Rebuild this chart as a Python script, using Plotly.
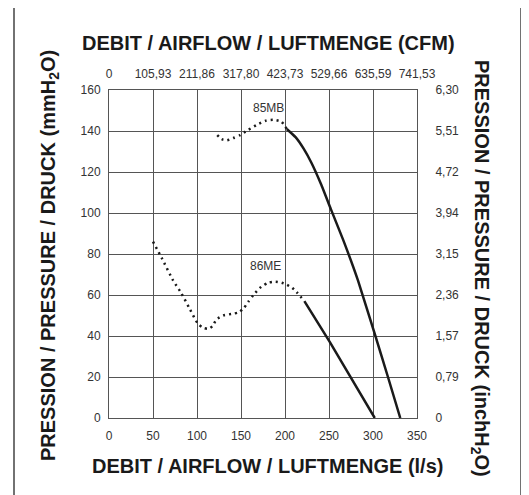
import plotly.graph_objects as go

# Bottom axis (l/s) ticks and top axis (CFM) tick labels
flow_ticks = [0, 50, 100, 150, 200, 250, 300, 350]
cfm_ticks = [0, 105.93, 211.86, 317.80, 423.73, 529.66, 635.59, 741.53]
cfm_labels = ["0", "105,93", "211,86", "317,80", "423,73", "529,66", "635,59", "741,53"]
# Left axis (mmH2O) and right axis (inchH2O)
mm_ticks = [0, 20, 40, 60, 80, 100, 120, 140, 160]
inch_ticks = [0, 0.79, 1.57, 2.36, 3.15, 3.94, 4.72, 5.51, 6.30]
inch_labels = ["0", "0,79", "1,57", "2,36", "3,15", "3,94", "4,72", "5,51", "6,30"]

# 85MB curve
flow_85mb_dot = [123, 128, 134, 141, 149, 158, 168, 178, 187, 196, 202]
pres_85mb_dot = [138, 136, 135.5, 136.5, 138, 140.5, 143, 145, 145.5, 144.5, 141]
flow_85mb = [202, 212, 221, 230, 241, 252, 266, 283, 302, 317, 331]
pres_85mb = [141, 137, 131.5, 124.5, 114, 102, 87, 67, 41, 20, 0]

# 86ME curve
flow_86me_dot = [50, 60, 73, 82, 92, 101, 107, 113, 118, 122, 130, 140, 147, 153,
                 158, 164, 173, 181, 189, 196, 202, 208, 213, 222]
pres_86me_dot = [86, 78, 67, 61, 53, 46, 44, 43.5, 45, 48, 50, 50.8, 51.5, 53.5,
                 56.5, 60, 64, 66, 66.5, 66, 65, 63.5, 61.5, 57]
flow_86me = [222, 251, 302]
pres_86me = [57, 37, 0]

FONT = "Liberation Sans, Arial, sans-serif"
GRID = "#555555"
TXT = "#333333"

# page has an 8px body margin: figure is offset by (8, 8) in the page
OFF = 8
W, H = 529 - OFF, 495 - OFF
PL, PT, PR, PB = 109, 90, 417, 418  # plot area in page pixels

fig = go.Figure()
dot = dict(color="#1a1a1a", width=2.5, dash="2px,4px", shape="spline", smoothing=0.6)
solid = dict(color="#1a1a1a", width=2.5, shape="spline", smoothing=0.4)
fig.add_trace(go.Scatter(x=flow_85mb_dot, y=pres_85mb_dot, mode="lines", line=dot, hoverinfo="skip"))
fig.add_trace(go.Scatter(x=flow_85mb, y=pres_85mb, mode="lines", line=solid, hoverinfo="skip"))
fig.add_trace(go.Scatter(x=flow_86me_dot, y=pres_86me_dot, mode="lines", line=dot, hoverinfo="skip"))
fig.add_trace(go.Scatter(x=flow_86me, y=pres_86me, mode="lines",
                         line=dict(color="#1a1a1a", width=2.5), hoverinfo="skip"))
# invisible traces to activate secondary axes
fig.add_trace(go.Scatter(x=[cfm_ticks[0]], y=[0], xaxis="x2", yaxis="y", mode="markers",
                         marker=dict(opacity=0), hoverinfo="skip"))
fig.add_trace(go.Scatter(x=[0], y=[inch_ticks[0]], xaxis="x", yaxis="y2", mode="markers",
                         marker=dict(opacity=0), hoverinfo="skip"))

tickfont = dict(family=FONT, size=12, color=TXT)
fig.update_layout(
    width=W, height=H,
    margin=dict(l=PL - OFF, r=W - (PR - OFF), t=PT - OFF, b=H - (PB - OFF), pad=0),
    paper_bgcolor="white", plot_bgcolor="white",
    showlegend=False,
    font=dict(family=FONT, color=TXT),
    xaxis=dict(range=[0, 350], tickvals=flow_ticks, showgrid=True, gridcolor=GRID, gridwidth=1,
               showline=True, linecolor=GRID, linewidth=1, mirror=True, zeroline=False,
               ticks="outside", ticklen=7, tickcolor="rgba(0,0,0,0)", tickfont=tickfont),
    xaxis2=dict(range=[0, 741.53], overlaying="x", side="top", anchor="y",
                tickvals=cfm_ticks, ticktext=cfm_labels, showgrid=False, zeroline=False,
                ticks="outside", ticklen=6, tickcolor="rgba(0,0,0,0)", tickfont=tickfont),
    yaxis=dict(range=[0, 160], tickvals=mm_ticks, showgrid=True, gridcolor=GRID, gridwidth=1,
               showline=True, linecolor=GRID, linewidth=1, mirror=True, zeroline=False,
               ticks="outside", ticklen=5, tickcolor="rgba(0,0,0,0)", tickfont=tickfont),
    yaxis2=dict(range=[0, 6.30], overlaying="y", side="right", anchor="x",
                tickvals=inch_ticks, ticktext=inch_labels, showgrid=False, zeroline=False,
                ticks="outside", ticklen=15, tickcolor="rgba(0,0,0,0)", tickfont=tickfont),
)

titlefont = dict(family=FONT, size=20, color="#1a1a1a")
def px_x(p):
    return (p - PL) / (PR - PL)
def px_y(p):
    return (PB - p) / (PB - PT)

fig.add_annotation(text="<b>DEBIT / AIRFLOW / LUFTMENGE (CFM)</b>", xref="paper", yref="paper",
                   x=px_x(268), y=px_y(43), showarrow=False, font=titlefont,
                   xanchor="center", yanchor="middle")
fig.add_annotation(text="<b>DEBIT / AIRFLOW / LUFTMENGE (l/s)</b>", xref="paper", yref="paper",
                   x=px_x(267), y=px_y(466), showarrow=False, font=titlefont,
                   xanchor="center", yanchor="middle")
fig.add_annotation(text="<b>PRESSION / PRESSURE / DRUCK (mmH<sub>2</sub>O)</b>", xref="paper", yref="paper",
                   x=px_x(49), y=px_y(256), showarrow=False, font=titlefont, textangle=-90,
                   xanchor="center", yanchor="middle")
fig.add_annotation(text="<b>PRESSION / PRESSURE / DRUCK (inchH<sub>2</sub>O)</b>", xref="paper", yref="paper",
                   x=px_x(481), y=px_y(268), showarrow=False, font=titlefont, textangle=90,
                   xanchor="center", yanchor="middle")

labfont = dict(family=FONT, size=12, color=TXT)
fig.add_annotation(text="85MB", x=181, y=151, xref="x", yref="y", showarrow=False, font=labfont)
fig.add_annotation(text="86ME", x=178, y=74, xref="x", yref="y", showarrow=False, font=labfont)

fig.add_shape(type="rect", xref="paper", yref="paper",
              x0=px_x(14), x1=px_x(521), y0=px_y(520), y1=px_y(6),
              line=dict(color="#444444", width=1.5), fillcolor="rgba(0,0,0,0)", layer="below")

fig.write_html("out.html")
